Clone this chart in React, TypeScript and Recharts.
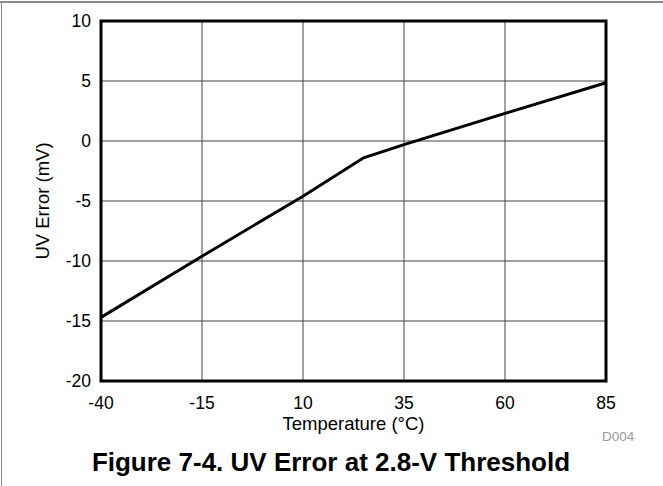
import { LineChart, Line, XAxis, YAxis, CartesianGrid, ReferenceArea, Label } from 'recharts';

const temperatures = [-40, -15, 10, 25, 35, 60, 85];
const uvError = [-14.7, -9.6, -4.6, -1.4, -0.3, 2.3, 4.85];
const xTicks = [-40, -15, 10, 35, 60, 85];
const yTicks = [-20, -15, -10, -5, 0, 5, 10];

const data = temperatures.map((t, i) => ({ temp: t, err: uvError[i] }));

const font = '"Liberation Sans", Arial, sans-serif';

export default function App() {
  return (
    <div style={{ position: 'absolute', left: 0, top: 0, width: 663, height: 486, background: '#fff', fontFamily: font }}>
      {/* frame lines at top and left */}
      <div style={{ position: 'absolute', left: 0, top: 1, width: 663, height: 2, background: '#8a8a8a' }} />
      <div style={{ position: 'absolute', left: 1, top: 1, width: 1, height: 485, background: '#8a8a8a' }} />

      <LineChart width={663} height={486} data={data} margin={{ top: 21, right: 57, left: 0, bottom: 0 }}>
        <CartesianGrid stroke="#444" strokeWidth={1} />
        <XAxis
          dataKey="temp"
          type="number"
          domain={[-40, 85]}
          ticks={xTicks}
          height={105}
          tickLine={false}
          axisLine={false}
          tickMargin={10}
          tick={{ fill: '#000', fontSize: 17.5, fontFamily: font }}
        >
          <Label value="Temperature (°C)" position="insideTop" offset={36} fill="#000" fontSize={18.5} fontFamily={font} />
        </XAxis>
        <YAxis
          type="number"
          domain={[-20, 10]}
          ticks={yTicks}
          width={101}
          tickLine={false}
          axisLine={false}
          tickMargin={4}
          tick={{ fill: '#000', fontSize: 17.5, fontFamily: font }}
        >
          <Label
            value="UV Error (mV)"
            angle={-90}
            position="insideLeft"
            offset={42}
            fill="#000"
            fontSize={18.5}
            fontFamily={font}
            style={{ textAnchor: 'middle' }}
          />
        </YAxis>
        <ReferenceArea x1={-40} x2={85} y1={-20} y2={10} fill="none" stroke="#000" strokeWidth={3} fillOpacity={0} />
        <Line type="linear" dataKey="err" stroke="#000" strokeWidth={3} dot={false} isAnimationActive={false} />
      </LineChart>

      <div style={{ position: 'absolute', left: 0, width: 662, top: 449, textAlign: 'center', fontSize: 26, lineHeight: '26px', fontWeight: 'bold', color: '#000' }}>
        Figure 7-4. UV Error at 2.8-V Threshold
      </div>
      <div style={{ position: 'absolute', left: 602, top: 430, fontSize: 13.5, lineHeight: '13.5px', color: '#9a9a9a' }}>
        D004
      </div>
    </div>
  );
}
